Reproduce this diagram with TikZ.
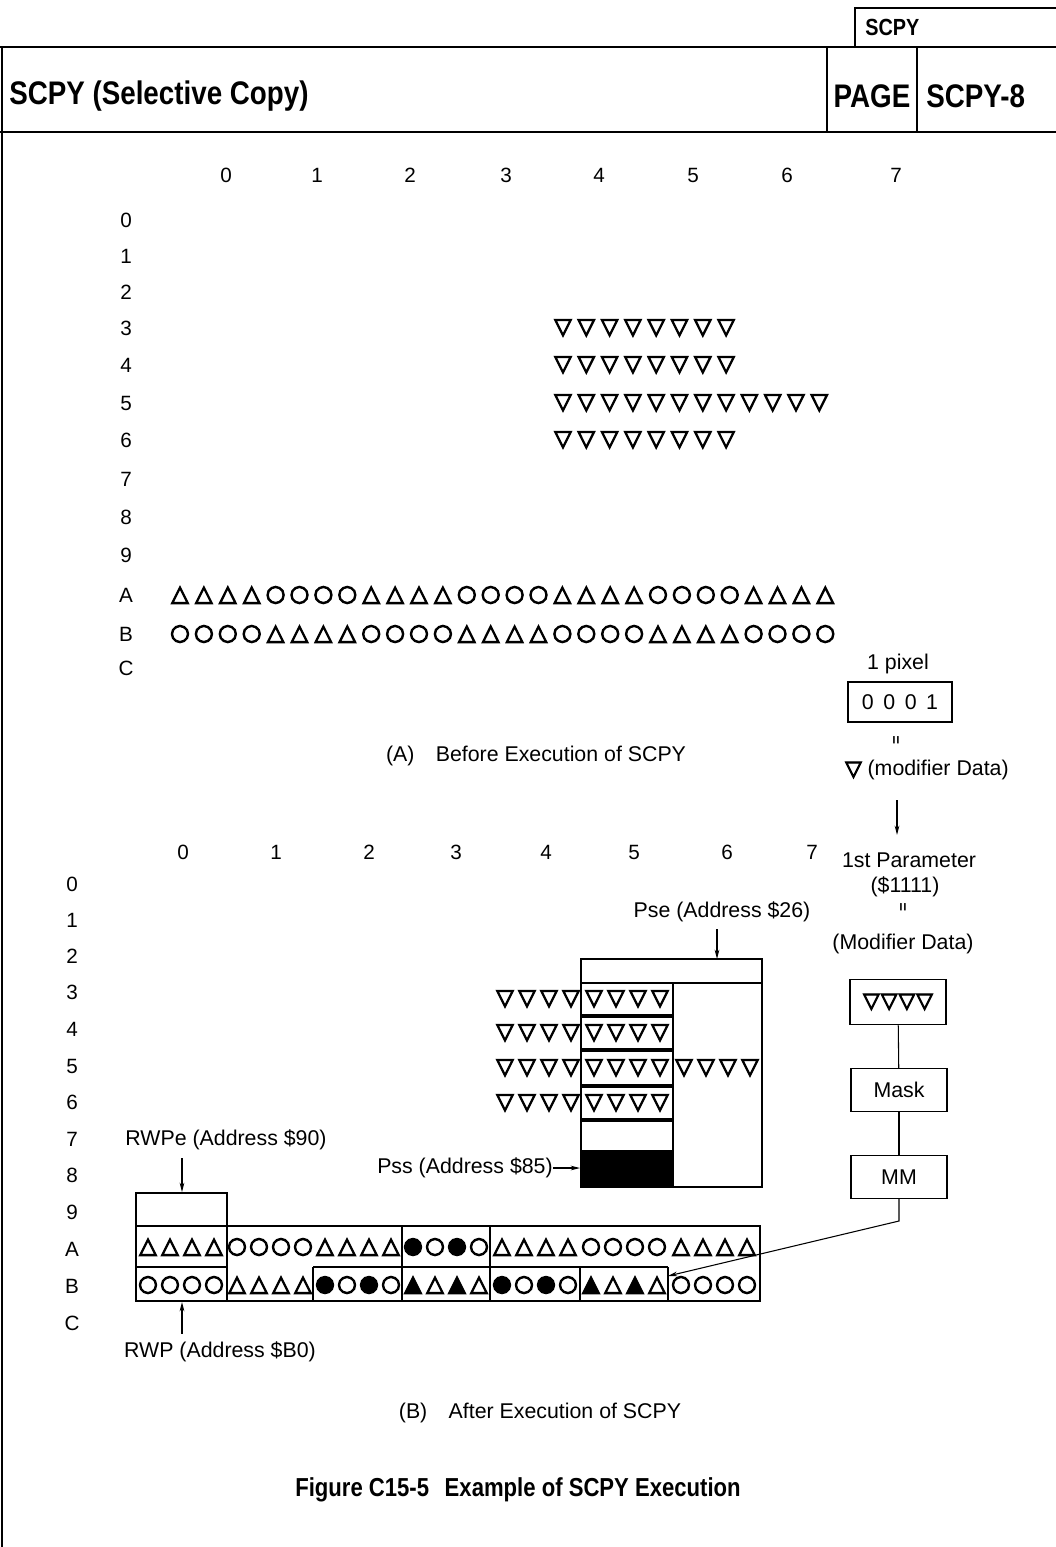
\documentclass[tikz,border=0pt]{standalone}
\usepackage{fontspec}
\setmainfont{Liberation Sans}
\newfontfamily\hdrfont[FakeStretch=0.85]{Liberation Sans}
\newfontfamily\symfont[FakeBold=5]{DejaVu Sans}
\usetikzlibrary{arrows.meta, positioning}

% four symbols of one pixel column, centred on #1
\newcommand{\fourcell}[6]{%
  \node[sym] (s#1-#2-1) at (#1-33,#2) {#3};
  \node[sym] (s#1-#2-2) at (#1-11,#2) {#4};
  \node[sym] (s#1-#2-3) at (#1+11,#2) {#5};
  \node[sym] (s#1-#2-4) at (#1+33,#2) {#6};}

\begin{document}
\begin{tikzpicture}[x=0.75pt, y=-0.75pt,
    frame/.style={line width=1.5pt},
    cell/.style={draw, line width=1pt},
    lbl/.style={font=\fontsize{15.5}{18}\selectfont, inner sep=0pt},
    note/.style={font=\fontsize{16}{18}\selectfont, inner sep=0pt},
    sym/.style={font=\symfont\fontsize{17}{19}\selectfont, inner sep=0pt},
    hdr/.style={font=\hdrfont\bfseries\fontsize{24.5}{28}\selectfont, inner sep=0pt},
    arr/.style={-{Stealth[length=7pt,width=3.5pt]}, line width=0.8pt},
    eqmark/.style={rotate=90, font=\bfseries\fontsize{11}{11}\selectfont, inner sep=0pt},
  ]
  \useasboundingbox (0,0) rectangle (1056,1547);

  % header
  \draw[frame] (855,47) -- (855,8) -- (1056,8);
  \draw[frame] (0,47) -- (1056,47);
  \draw[frame] (0,132) -- (1056,132);
  \draw[frame] (2,47) -- (2,1547);
  \draw[frame] (827,47) -- (827,132);
  \draw[frame] (917,47) -- (917,132);
  \node[hdr, font=\hdrfont\bfseries\fontsize{17.5}{20}\selectfont, anchor=west] (tab) at (865,27) {SCPY};
  \node[hdr, anchor=west] (title) at (9,96) {SCPY (Selective Copy)};
  \node[hdr] (page) at (872,96) {PAGE};
  \node[hdr, anchor=west] (pgno) at (926,96) {SCPY-8};

  % (A) before execution
  \foreach \t/\x in {0/226, 1/317, 2/410, 3/506, 4/599, 5/693, 6/787, 7/896}
    \node[lbl] (ca\t) at (\x,175) {\t};
  \foreach \t/\y in {0/220, 1/256, 2/292, 3/328, 4/365, 5/403, 6/440,
                     7/479, 8/517, 9/555, A/595, B/634, C/668}
    \node[lbl] (ra\t) at (126,\y) {\t};

  \foreach \r/\n in {328/8, 365/8, 403/12, 440/8}
    \foreach \k in {1,...,\n}
      \node[sym] (ta\r-\k) at ({563+23.3*(\k-1)},\r) {▽};

  \foreach \g in {0,...,6}
    \foreach \k in {0,...,3} {
      \pgfmathtruncatemacro{\i}{4*\g+\k}
      \ifodd\g\relax \def\sa{○}\def\sb{△}\else \def\sa{△}\def\sb{○}\fi
      \node[sym] (sa\i) at ({180+23.9*\i},595) {\sa};
      \node[sym] (sb\i) at ({180+23.9*\i},634) {\sb};
    }

  \node[note] (capa) at (536,756) {(A)\hspace{1em}Before Execution of SCPY};

  % modifier data
  \node[note] (pixlbl) at (898,664) {1 pixel};
  \node[cell, font=\fontsize{16}{18}\selectfont, minimum width=78pt, minimum height=30pt, inner sep=0pt]
    (pix) at (900,702) {0\hspace{.45em}0\hspace{.45em}0\hspace{.45em}1};
  \node[eqmark] (eq1) at (897,740) {=};
  \node[note] (mod) at (927,770) {{\symfont ▽} (modifier Data)};
  \node[note] (par) at (909,860) {1st Parameter};
  \draw[arr, shorten <=15pt, shorten >=13pt] (mod.south -| eq1) -- (par.north -| eq1);
  \node[note] (parv) at (905,887) {(\$1111)};
  \node[eqmark] (eq2) at (904,907) {=};
  \node[note] (moddata) at (903,944) {(Modifier Data)};
  \node[cell, font=\symfont\fontsize{16}{18}\selectfont, minimum width=72pt, minimum height=34pt, inner sep=0pt]
    (mbox) at (898,1002) {▽\hspace{1pt}▽\hspace{1pt}▽\hspace{1pt}▽};
  \node[cell, font=\fontsize{16}{18}\selectfont, minimum width=72pt, minimum height=32pt, inner sep=0pt]
    (mask) at (899,1090) {Mask};
  \node[cell, font=\fontsize{16}{18}\selectfont, minimum width=72pt, minimum height=32pt, inner sep=0pt]
    (mm) at (899,1177) {MM};
  \draw[line width=0.8pt] (mbox) -- (mask);
  \draw[line width=0.8pt] (mask) -- (mm);

  % (B) after execution
  \foreach \t/\x in {0/183, 1/276, 2/369, 3/456, 4/546, 5/634, 6/727, 7/812}
    \node[lbl] (cb\t) at (\x,852) {\t};
  \foreach \t/\y in {0/884, 1/920, 2/956, 3/992, 4/1029, 5/1066, 6/1102,
                     7/1139, 8/1175, 9/1212, A/1249, B/1286, C/1323}
    \node[lbl] (rb\t) at (72,\y) {\t};

  % Pss / Pse window
  \draw[cell] (581,959) rectangle (762,983);
  \draw[cell] (673,983) rectangle (762,1187);
  \foreach \t/\b in {983/1015, 1017/1049, 1051/1085, 1087/1119, 1121/1151}
    \draw[cell] (581,\t) rectangle (673,\b);
  \filldraw[cell, fill=black] (581,1151) rectangle (673,1187);

  \foreach \y in {999, 1033, 1068, 1103} {
    \fourcell{538}{\y}{▽}{▽}{▽}{▽}
    \fourcell{627}{\y}{▽}{▽}{▽}{▽}
  }
  \fourcell{717}{1068}{▽}{▽}{▽}{▽}

  \node[note] (pse) at (722,912) {Pse (Address \$26)};
  \coordinate (pseend) at (717,959);
  \draw[arr, shorten <=5pt] (pse.south -| pseend) -- (pseend);
  \node[note, anchor=east] (pss) at (553,1168) {Pss (Address \$85)};
  \coordinate (pssend) at (580,1168);
  \draw[arr] (pss.east) -- (pssend);

  % RWP window
  \draw[cell] (136,1193) rectangle (227,1226);
  \draw[cell] (136,1226) rectangle (760,1301);
  \draw[cell] (136,1267) -- (227,1267);
  \draw[cell] (227,1226) -- (227,1301);
  \draw[cell] (402,1226) rectangle (490,1267);
  \draw[cell] (313,1267) -- (668,1267);
  \foreach \x in {313, 402, 490, 580, 668}
    \draw[cell] (\x,1267) -- (\x,1301);

  \fourcell{181}{1247}{△}{△}{△}{△}
  \fourcell{270}{1247}{○}{○}{○}{○}
  \fourcell{358}{1247}{△}{△}{△}{△}
  \fourcell{446}{1247}{●}{○}{●}{○}
  \fourcell{535}{1247}{△}{△}{△}{△}
  \fourcell{624}{1247}{○}{○}{○}{○}
  \fourcell{714}{1247}{△}{△}{△}{△}

  \fourcell{181}{1285}{○}{○}{○}{○}
  \fourcell{270}{1285}{△}{△}{△}{△}
  \fourcell{358}{1285}{●}{○}{●}{○}
  \fourcell{446}{1285}{▲}{△}{▲}{△}
  \fourcell{535}{1285}{●}{○}{●}{○}
  \fourcell{624}{1285}{▲}{△}{▲}{△}
  \fourcell{714}{1285}{○}{○}{○}{○}

  \node[note] (rwpe) at (226,1140) {RWPe (Address \$90)};
  \coordinate (rwpeend) at (182,1192);
  \draw[arr, shorten <=6pt] (rwpe.south -| rwpeend) -- (rwpeend);
  \node[note] (rwp) at (220,1352) {RWP (Address \$B0)};
  \coordinate (rwpend) at (182,1302);
  \draw[arr, shorten <=6pt] (rwp.north -| rwpend) -- (rwpend);

  \coordinate (mmtip) at (668,1276);
  \draw[arr] (mm.south) -- ++(0,22) -- (mmtip);

  \node[note] (capb) at (540,1413) {(B)\hspace{1em}After Execution of SCPY};
  \node[hdr, font=\hdrfont\bfseries\fontsize{19.5}{22}\selectfont] (fig) at (518,1490)
    {Figure C15-5\hspace{0.6em}Example of SCPY Execution};
\end{tikzpicture}
\end{document}
